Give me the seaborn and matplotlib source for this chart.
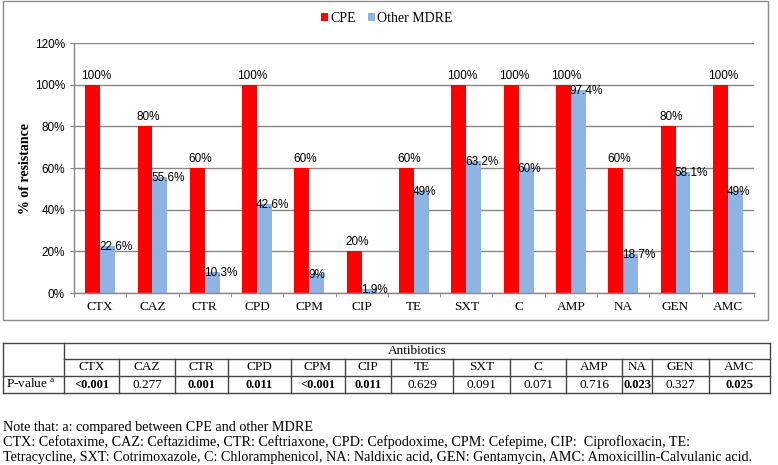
import pandas as pd
import matplotlib.pyplot as plt
import seaborn as sns
from matplotlib.patches import Rectangle
from matplotlib.lines import Line2D
from matplotlib.ticker import PercentFormatter, FixedLocator

antibiotics = ['CTX', 'CAZ', 'CTR', 'CPD', 'CPM', 'CIP', 'TE', 'SXT', 'C', 'AMP', 'NA', 'GEN', 'AMC']
cpe = [100, 80, 60, 100, 60, 20, 60, 100, 100, 100, 60, 80, 100]
other_mdre = [22.6, 55.6, 10.3, 42.6, 9, 1.9, 49, 63.2, 60, 97.4, 18.7, 58.1, 49]
p_values = ['<0.001', '0.277', '0.001', '0.011', '<0.001', '0.011', '0.629', '0.091', '0.071', '0.716', '0.023', '0.327', '0.025']
groups = ['CPE', 'Other MDRE']

df = pd.DataFrame({
    'Antibiotic': antibiotics * 2,
    'Resistance': cpe + other_mdre,
    'Group': [groups[0]] * len(antibiotics) + [groups[1]] * len(antibiotics),
})

RED = '#FF0000'
BLUE = '#8DB4E2'
GRAY = '#878787'
SERIF = 'Liberation Serif'
SANS = 'Liberation Sans'

W, H = 778, 465
fig = plt.figure(figsize=(W / 100, H / 100), dpi=100)

def fx(x):
    return x / W

def fy(y):
    return 1 - y / H

# chart frame
fig.add_artist(Rectangle((fx(3), fy(320)), fx(765), 319 / H, fill=False,
                         edgecolor='#8c8c8c', lw=1, transform=fig.transFigure))

ax = fig.add_axes([fx(74), fy(293), fx(754) - fx(74), fy(43) - fy(293)])
sns.barplot(data=df, x='Antibiotic', y='Resistance', hue='Group', palette=[RED, BLUE],
            width=0.57, saturation=1, ax=ax)

handles, labels = ax.get_legend_handles_labels()
ax.get_legend().remove()
fig.legend(handles, labels, loc='center', bbox_to_anchor=(fx(387), fy(18)), ncol=2,
           frameon=False, handlelength=0.5, handleheight=0.5, handletextpad=0.15,
           columnspacing=0.9, prop={'family': SERIF, 'size': 10})

ax.set_ylim(0, 120)
ax.set_xlim(-0.5, len(antibiotics) - 0.5)
ax.yaxis.set_major_locator(FixedLocator(range(0, 121, 20)))
ax.yaxis.set_major_formatter(PercentFormatter(100, decimals=0))
ax.yaxis.grid(True, color=GRAY, lw=1)
ax.set_axisbelow(True)
for s in ['top', 'right']:
    ax.spines[s].set_visible(False)
for s in ['left', 'bottom']:
    ax.spines[s].set_color(GRAY)
    ax.spines[s].set_linewidth(1)

ax.tick_params(axis='y', length=3, color=GRAY, pad=3.5, labelsize=8.5)
for t in ax.get_yticklabels():
    t.set_fontfamily(SANS)
ax.xaxis.set_minor_locator(FixedLocator([i - 0.5 for i in range(len(antibiotics) + 1)]))
ax.tick_params(axis='x', which='major', length=0, pad=6, labelsize=9.5)
ax.tick_params(axis='x', which='minor', length=3, color=GRAY)
for t in ax.get_xticklabels():
    t.set_fontfamily(SERIF)

ax.set_xlabel('')
ax.set_ylabel('% of resistance', fontfamily=SERIF, fontweight='bold', fontsize=10)
ax.yaxis.set_label_coords(-(74 - 32) / 680, 0.5)

# data labels
red_bars, blue_bars = ax.containers[0], ax.containers[1]
for p in red_bars:
    h = p.get_height()
    ax.annotate(f'{h:g}%', (p.get_x() + p.get_width() / 2, h), xytext=(3, 3),
                textcoords='offset pixels', ha='center', va='bottom',
                fontsize=8.5, fontfamily=SANS)
for p in blue_bars:
    h = p.get_height()
    ax.annotate(f'{h:g}%', (p.get_x(), h), xytext=(-1, -1),
                textcoords='offset pixels', ha='left', va='center',
                fontsize=8.5, fontfamily=SANS)

# p-value table
edges = [3, 64, 119, 175, 228, 291, 345, 391, 453, 510, 566, 622, 652, 709, 770]
y_top, y_mid, y_row, y_bot = 343, 359, 376, 393
lc = '#444444'

def hline(x0, x1, y):
    fig.add_artist(Line2D([fx(x0), fx(x1)], [fy(y), fy(y)], color=lc, lw=1,
                          transform=fig.transFigure))

def vline(x, y0, y1):
    fig.add_artist(Line2D([fx(x), fx(x)], [fy(y0), fy(y1)], color=lc, lw=1,
                          transform=fig.transFigure))

hline(edges[0], edges[-1], y_top)
hline(edges[1], edges[-1], y_mid)
hline(edges[0], edges[-1], y_row)
hline(edges[0], edges[-1], y_bot)
vline(edges[0], y_top, y_bot)
vline(edges[1], y_top, y_bot)
vline(edges[-1], y_top, y_bot)
for x in edges[2:-1]:
    vline(x, y_mid, y_bot)

tfs = 9.5
fig.text(fx((edges[1] + edges[-1]) / 2), fy((y_top + y_mid) / 2 - 0.5), 'Antibiotics',
         ha='center', va='center', fontfamily=SERIF, fontsize=tfs)
fig.text(fx(6), fy((y_row + y_bot) / 2), r'P-value $^{\mathregular{a}}$',
         ha='left', va='center', fontfamily=SERIF, fontsize=tfs)
for i, (name, pv) in enumerate(zip(antibiotics, p_values)):
    cx = fx((edges[i + 1] + edges[i + 2]) / 2)
    fig.text(cx, fy((y_mid + y_row) / 2), name, ha='center', va='center',
             fontfamily=SERIF, fontsize=tfs)
    sig = pv.startswith('<') or float(pv) < 0.05
    fig.text(cx, fy((y_row + y_bot) / 2), pv, ha='center', va='center',
             fontfamily=SERIF, fontsize=9 if sig else tfs,
             fontweight='bold' if sig else 'normal')

notes = [
    'Note that: a: compared between CPE and other MDRE',
    'CTX: Cefotaxime, CAZ: Ceftazidime, CTR: Ceftriaxone, CPD: Cefpodoxime, CPM: Cefepime, CIP:  Ciprofloxacin, TE:',
    'Tetracycline, SXT: Cotrimoxazole, C: Chloramphenicol, NA: Naldixic acid, GEN: Gentamycin, AMC: Amoxicillin-Calvulanic acid.',
]
for k, line in enumerate(notes):
    fig.text(fx(3), fy(427 + 15 * k), line, ha='left', va='center',
             fontfamily=SERIF, fontsize=10.2)

fig.savefig('out.png', dpi=100)
